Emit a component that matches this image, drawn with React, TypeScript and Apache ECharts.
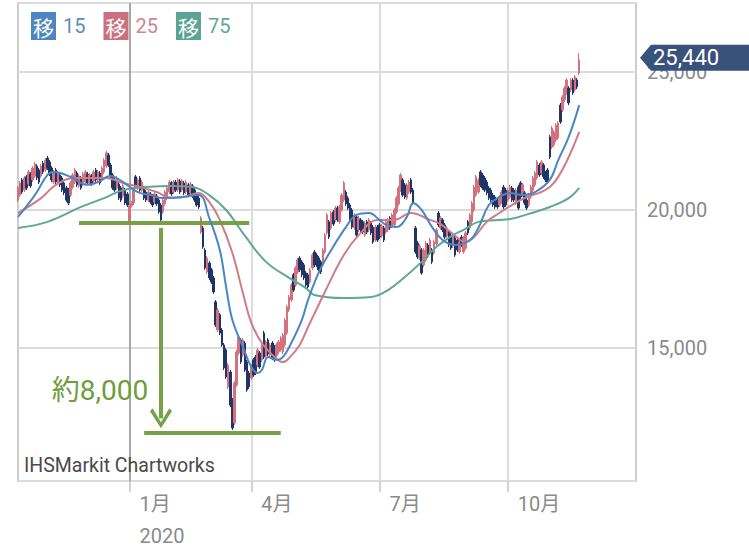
import React, { useEffect, useRef } from 'react';
import * as echarts from 'echarts';

// trading days per month (category axis)
const monthCounts: [string, number][] = [
  ['2019/10', 12], ['2019/11', 20], ['2019/12', 21],
  ['2020/1', 19], ['2020/2', 18], ['2020/3', 21],
  ['2020/4', 21], ['2020/5', 18], ['2020/6', 22],
  ['2020/7', 21], ['2020/8', 20], ['2020/9', 20],
  ['2020/10', 22], ['2020/11', 19], ['2020/12', 21],
];
const monthTickLabels: Record<string, string> = {
  '2020/1': '1月\n2020', '2020/4': '4月', '2020/7': '7月', '2020/10': '10月',
};
const yTicks = [15000, 20000, 25000];

// [open, close, low, high]
const candlesPre: number[][] = [
  [20360,20800,20290,20870],[20540,20980,20470,21050],[21090,20650,20580,21160],[20720,21160,20650,21230],
  [21200,20800,20730,21270],[20940,21380,20870,21450],[21300,20870,20800,21370],[21090,21520,21010,21590],
  [21230,21670,21160,21740],[21590,21160,21090,21660],[21450,21010,20940,21520],[21230,21590,21160,21660],
  [21700,21380,21300,21780],[21450,21810,21380,21880],[21880,21520,21450,21960],[21740,21300,21230,21810],
  [21520,21090,21010,21590],[21010,21380,20940,21450],[21450,21010,20940,21520],[20980,21340,20910,21410],
  [21270,20910,20830,21340],[21160,20720,20650,21230],[20980,20620,20540,21050],[20800,20360,20290,20870],
  [20720,20250,20180,20800],[20540,20980,20470,21050],[20830,21270,20760,21340],[21010,21450,20940,21520],
  [21340,20910,20830,21410],[20870,21230,20800,21300],[21160,20800,20730,21230],[20940,21300,20870,21380],
  [21010,21380,20940,21450],[21300,20980,20910,21380],[20980,21270,20910,21340],[21230,20940,20870,21300],
  [21050,21380,20980,21450],[21450,21090,21010,21520],[21090,21380,21010,21450],[21340,20980,20910,21410],
  [21090,21520,21010,21590],[21380,21810,21300,21880],[21590,22070,21520,22140],[21990,21630,21560,22070],
  [21630,21200,21120,21700],[21270,20800,20730,21340],[21090,20720,20650,21160],[20800,21160,20730,21230],
  [20940,20430,20360,21010],[20800,20360,20290,20870],[20510,20870,20430,20940],[20720,20250,20180,20800],
  [20580,20180,20110,20650],
];
const candlesQ1: number[][] = [
  [19570,20150,19490,20220],[20150,20250,20080,20330],[20250,20720,20180,20800],[21200,20830,20760,21270],
  [20800,21090,20730,21160],[21160,20720,20650,21230],[20720,21010,20650,21090],[20800,20430,20360,20870],
  [20650,20360,20290,20720],[20360,20650,20290,20720],[20580,20290,20220,20650],[20510,20180,20110,20580],
  [20290,20580,20220,20650],[20510,20220,20150,20580],[20360,19930,19860,20430],[20180,19640,19570,20250],
  [19930,20360,19860,20430],[20220,20650,20150,20720],[20430,20800,20360,20870],[20650,21010,20580,21090],
  [20980,20580,20510,21050],[20650,21010,20580,21090],[21010,20720,20650,21090],[20720,21090,20650,21160],
  [21050,20650,20580,21120],[20720,21050,20650,21120],[20980,20620,20540,21050],[20650,21010,20580,21090],
  [20910,20540,20470,20980],[20620,20940,20540,21010],[20870,20510,20430,20940],[20720,20360,20290,20800],
  [20540,20180,20110,20620],[20430,20110,20040,20510],[19200,19710,19130,19780],[19350,18660,18590,19420],
  [18550,17900,17830,18620],[17750,18260,17680,18330],[18080,17540,17460,18150],[17830,17390,17320,17900],
  [17540,17030,16960,17610],[16670,15830,15760,16740],[15650,16380,15580,16450],[16200,15540,15470,16270],
  [15650,15110,15040,15720],[15110,14280,14200,15180],[14930,13950,13880,15000],[13590,14380,13510,14460],
  [14130,12930,12860,14200],[13120,12100,12030,13190],[12280,13730,12210,13800],[13660,14850,13590,14930],
  [14820,15400,14750,15470],[15290,14490,14420,15360],[14750,15290,14670,15360],[15180,14200,14130,15250],
  [14490,13480,13410,14570],[14090,13590,13510,14170],
];
const candlesQ2: number[][] = [
  [13910,14350,13840,14420],[14570,14020,13950,14640],[14670,14090,14020,14750],[14380,14930,14310,15000],
  [14820,14310,14240,14890],[14570,15110,14490,15180],[15540,14670,14600,15620],[14710,15220,14640,15290],
  [15290,14780,14710,15360],[14750,15110,14670,15180],[15180,14640,14560,15250],[15040,14570,14490,15110],
  [14710,15110,14640,15180],[14860,15220,14780,15290],[14930,15360,14860,15430],[14860,15470,14780,15540],
  [15110,16010,15040,16090],[15540,16490,15470,16560],[16380,16850,16300,16920],[16740,17280,16670,17360],
  [17650,17100,17030,17720],[17280,17900,17210,17970],[17750,18190,17680,18260],[18260,17830,17750,18330],
  [18120,17650,17570,18190],[18010,17540,17460,18080],[17720,17280,17210,17790],[17650,17210,17140,17720],
  [17390,17830,17320,17900],[17900,18370,17830,18440],[18480,18010,17930,18550],[18370,18010,17930,18440],
  [18260,17830,17750,18330],[18120,17750,17680,18190],[18040,18550,17970,18620],[18480,19090,18410,19170],
  [19170,19820,19090,19890],[19570,19020,18950,19640],[19350,19890,19280,19960],[19930,19490,19420,20000],
  [19640,20070,19570,20150],[20070,19640,19570,20150],[19570,20110,19490,20180],[20000,20540,19930,20620],
  [20360,20980,20290,21050],[20650,20220,20150,20720],[20430,20070,20000,20510],[20180,19640,19570,20250],
  [20000,19380,19310,20070],[19350,19820,19280,19890],[19750,19090,19020,19820],[19280,19710,19200,19780],
  [19640,19280,19200,19710],[19570,19200,19130,19640],[19090,19530,19020,19600],[19570,19200,19130,19640],
  [19280,19640,19200,19710],[19530,19170,19090,19600],[19380,18840,18770,19460],[18910,19380,18840,19460],
  [19380,18910,18840,19460],
];
const candlesQ3: number[][] = [
  [19460,19020,18950,19530],[19060,19420,18990,19490],[19350,18910,18840,19420],[19200,19570,19130,19640],
  [19280,19640,19200,19710],[19710,19350,19280,19780],[19420,19820,19350,19890],[19460,20000,19380,20070],
  [19930,20430,19860,20510],[20220,20800,20150,20870],[20720,21270,20650,21340],[21090,20540,20470,21160],
  [20910,20470,20400,20980],[20430,20910,20360,20980],[20650,21010,20580,21090],[21090,20650,20580,21160],
  [20720,20250,20180,20800],[19350,18480,18410,19420],[18800,18300,18220,18880],[18260,18700,18190,18770],
  [18550,17720,17650,18620],[18010,18550,17930,18620],[18190,18800,18120,18880],[18730,18330,18260,18800],
  [18440,18910,18370,18990],[18550,18120,18040,18620],[18440,18840,18370,18910],[18770,19280,18700,19350],
  [19890,19460,19380,19960],[19350,19710,19280,19780],[19640,19280,19200,19710],[19460,19020,18950,19530],
  [19060,19350,18990,19420],[19200,18730,18660,19280],[19090,18620,18550,19170],[18700,19060,18620,19130],
  [18990,18370,18300,19060],[18910,18550,18480,18990],[18480,18840,18410,18910],[19020,18730,18660,19090],
  [18480,18990,18410,19060],[18620,19170,18550,19240],[19570,19170,19090,19640],[19350,19820,19280,19890],
  [19570,20250,19490,20330],[20000,20830,19930,20910],[20540,21200,20470,21270],[20650,21090,20580,21160],
  [21380,20910,20830,21450],[21270,20800,20730,21340],[21160,20720,20650,21230],[21010,20620,20540,21090],
  [20800,20430,20360,20870],[20720,20360,20290,20800],[20540,20180,20110,20620],[20470,20110,20040,20540],
  [20360,20110,20040,20430],[20180,20470,20110,20540],[20290,20650,20220,20720],[20830,20110,20040,20910],
  [20720,20180,20110,20800],
];
const candlesQ4: number[][] = [
  [20360,20720,20290,20800],[20470,20830,20400,20910],[20800,20360,20290,20870],[20720,20360,20290,20800],
  [20250,20720,20180,20800],[20830,20070,20000,20910],[20980,20470,20400,21050],[20540,20910,20470,20980],
  [20620,20250,20180,20690],[20360,20070,20000,20430],[20180,20540,20110,20620],[20470,20830,20400,20910],
  [20720,21160,20650,21230],[20910,21340,20830,21410],[21160,21740,21090,21810],[21630,21270,21200,21700],
  [21340,21740,21270,21810],[21630,21200,21120,21700],[21340,21090,21010,21410],[21450,21010,20940,21520],
  [22650,21920,21850,22720],[22280,22970,22210,23040],[22360,22830,22280,22900],[22540,23080,22460,23150],
  [22610,23150,22540,23220],[23800,23190,23120,23880],[23620,24090,23550,24170],[23990,24420,23910,24490],
  [24240,24710,24170,24780],[24420,23880,23800,24490],[24350,24710,24280,24780],[24710,24240,24170,24780],
  [24350,24820,24280,24890],[24710,24460,24380,24780],[24960,25440,24890,25690],
];

// moving averages: [trading-day index, value]
const ma15Points: [number, number][] = [
  [0,19750],[8,20540],[14,21270],[17,21380],[25,21200],[33,20910],[38,21010],[44,21230],[50,21010],
  [57,20650],[63,20540],[69,20430],[78,20470],[86,20540],[91,19710],[96,18550],[99,17210],[102,16010],
  [107,15040],[111,14310],[114,14090],[116,14200],[119,14670],[123,14570],[126,14670],[130,15180],
  [135,16010],[138,16740],[143,17720],[149,18550],[156,19380],[161,19820],[167,19890],[172,19640],
  [175,19460],[180,19380],[185,19750],[188,20250],[192,20000],[197,19380],[202,18910],[208,18730],
  [215,18910],[219,19350],[224,20180],[229,20470],[234,20620],[240,20540],[246,20650],[253,21090],
  [257,21810],[262,22650],[267,23800],
];
const ma25Points: [number, number][] = [
  [0,19890],[11,20430],[18,20910],[27,21160],[35,21160],[42,21160],[50,20980],[58,20830],[66,20650],
  [73,20430],[79,20470],[86,20620],[91,20290],[96,19640],[102,18440],[107,16990],[111,15910],[116,15180],
  [121,14750],[126,14490],[129,14640],[134,15110],[138,15760],[146,17030],[155,18370],[163,19170],
  [171,19640],[179,19640],[187,19890],[196,19640],[201,19490],[207,19130],[213,18840],[217,19020],
  [223,19570],[229,19890],[235,20180],[242,20470],[248,20620],[253,20830],[257,21200],[262,21920],
  [267,22830],
];
const ma75Points: [number, number][] = [
  [0,19350],[14,19570],[30,20110],[41,20430],[50,20720],[61,20830],[73,20870],[83,20830],[91,20540],
  [99,20000],[108,19060],[118,18120],[129,17540],[137,17170],[141,16920],[155,16810],[168,16850],
  [176,17100],[184,17570],[192,18120],[199,18660],[207,19090],[212,19280],[219,19570],[234,19670],
  [243,19860],[253,20110],[262,20430],[267,20800],
];

// hand-drawn annotation (index, value)
const upperLevel = { from: 29, to: 110, value: 19530 };
const lowerLevel = { from: 60, to: 125, value: 11920 };
const arrowLine = { at: 68, from: 19350, to: 12450 };
const noteText = { at: 39, value: 13450, text: '約8,000' };

const W = 749;
const H = 553;
const GRID = { left: 18, right: 113, top: 3, bottom: 72 };
const GREEN = '#6e9d3d';
const FONT = 'Roboto, "Noto Sans CJK JP", sans-serif';

const categories: string[] = [];
monthCounts.forEach(([m, n]) => {
  for (let k = 1; k <= n; k++) categories.push(`${m}/${k}`);
});
const isMonthStart = (v: string) => {
  const parts = v.split('/');
  return parts[2] === '1' && monthTickLabels[`${parts[0]}/${parts[1]}`] !== undefined;
};
const monthKey = (v: string) => v.split('/').slice(0, 2).join('/');

const candles = [...candlesPre, ...candlesQ1, ...candlesQ2, ...candlesQ3, ...candlesQ4];
const lastClose = candles[candles.length - 1][1];
const toLine = (pts: [number, number][]) => pts.map(([i, v]) => [categories[i], v]);

const chevron = 'path://M50 0 L100 85 L88 100 L50 30 L12 100 L0 85 Z';

const legendRich: Record<string, any> = {};
[['15', '#4d86c0', '#5b8cc2'], ['25', '#c9717e', '#cf8591'], ['75', '#5aa493', '#63a696']].forEach(([k, box, num]) => {
  legendRich['b' + k] = {
    backgroundColor: box, color: '#fff', fontSize: 21, lineHeight: 22,
    padding: [4, 2, 3, 2], fontFamily: '"Noto Sans CJK JP", sans-serif',
  };
  legendRich['n' + k] = { color: num, fontSize: 20, padding: [0, 0, 0, 7], fontFamily: FONT };
});

export default function App() {
  const ref = useRef<HTMLDivElement>(null);
  useEffect(() => {
    const chart = echarts.init(ref.current!, null, { renderer: 'svg' });
    const monthFilter = (_i: number, v: string) => isMonthStart(v);
    chart.setOption({
      animation: false,
      backgroundColor: '#fff',
      grid: {
        ...GRID, show: true, borderColor: '#bdbdbd', borderWidth: 1.5, backgroundColor: 'transparent',
      },
      legend: {
        left: 21, top: 7, itemGap: 13, itemWidth: 0, itemHeight: 0, icon: 'none',
        selectedMode: false,
        data: ['15', '25', '75'],
        formatter: (name: string) => `{b${name}|移}{n${name}|${name}}`,
        textStyle: { rich: legendRich },
      },
      xAxis: {
        type: 'category',
        data: categories,
        boundaryGap: false,
        axisLine: { show: false },
        axisTick: { show: true, interval: monthFilter, length: 11, lineStyle: { color: '#c4c4c4', width: 1.5 } },
        splitLine: {
          show: true, interval: monthFilter,
          lineStyle: { color: ['#a8a8a8', '#dcdcdc', '#dcdcdc', '#dcdcdc', '#dcdcdc'], width: 2 },
        },
        axisLabel: {
          show: true, interval: monthFilter,
          formatter: (v: string) => monthTickLabels[monthKey(v)] ?? '',
          align: 'left', padding: [0, 0, 0, 10], margin: 7, lineHeight: 32,
          color: '#8a8a8a', fontSize: 20, fontFamily: FONT,
        },
      },
      yAxis: {
        type: 'value', position: 'right', scale: true,
        min: 10180, max: 27500, splitNumber: 3, minInterval: 5000, maxInterval: 5000,
        axisLine: { show: false }, axisTick: { show: false },
        splitLine: { show: true, lineStyle: { color: '#dcdcdc', width: 2 } },
        axisLabel: {
          showMinLabel: false, showMaxLabel: false, margin: 11,
          formatter: (v: number) => (yTicks.includes(v) ? v.toLocaleString('en-US') : ''),
          color: '#8a8a8a', fontSize: 20, fontFamily: FONT,
        },
      },
      series: [
        {
          type: 'candlestick', name: 'price', data: candles, barWidth: 2,
          itemStyle: { color: '#d4717c', color0: '#1f3565', borderColor: '#d4717c', borderColor0: '#1f3565', borderWidth: 1 },
          z: 2,
          markLine: {
            silent: true, animation: false, symbol: ['none', 'none'],
            label: { show: false },
            lineStyle: { color: GREEN, width: 4, type: 'solid', opacity: 0.95 },
            emphasis: { disabled: true },
            data: [
              [{ coord: [categories[upperLevel.from], upperLevel.value] }, { coord: [categories[upperLevel.to], upperLevel.value] }],
              [{ coord: [categories[lowerLevel.from], lowerLevel.value] }, { coord: [categories[lowerLevel.to], lowerLevel.value] }],
              [
                { coord: [categories[arrowLine.at], arrowLine.from], symbol: 'none' },
                { coord: [categories[arrowLine.at], arrowLine.to], symbol: chevron, symbolSize: [22, 20] },
              ],
            ],
          },
          markPoint: {
            silent: true, animation: false,
            data: [{
              coord: [categories[noteText.at], noteText.value], symbol: 'circle', symbolSize: 0,
              label: { show: true, position: 'inside', formatter: noteText.text, color: GREEN, fontSize: 28, fontFamily: FONT },
            }],
          },
        },
        { type: 'line', name: '75', data: toLine(ma75Points), smooth: 0.4, symbol: 'none', lineStyle: { color: '#5ea896', width: 2 }, itemStyle: { color: '#5ea896' }, z: 3 },
        { type: 'line', name: '25', data: toLine(ma25Points), smooth: 0.4, symbol: 'none', lineStyle: { color: '#d07c88', width: 2 }, itemStyle: { color: '#d07c88' }, z: 4 },
        { type: 'line', name: '15', data: toLine(ma15Points), smooth: 0.4, symbol: 'none', lineStyle: { color: '#4a87c2', width: 2 }, itemStyle: { color: '#4a87c2' }, z: 5 },
      ],
    });

    const yTag = chart.convertToPixel({ yAxisIndex: 0 }, lastClose) as number;
    const gx = W - GRID.right;
    chart.setOption({
      graphic: [
        {
          type: 'text', left: 24, top: 456, z: 10,
          style: { text: 'IHSMarkit Chartworks', fill: '#4a4a4a', fontSize: 19.5, fontFamily: FONT },
        },
        {
          type: 'polygon', z: 20,
          shape: { points: [[gx + 4, yTag - 2], [gx + 15, yTag - 15], [W, yTag - 15], [W, yTag + 11], [gx + 15, yTag + 11]] },
          style: { fill: '#38527c' },
        },
        {
          type: 'text', z: 21, x: gx + 17, y: yTag - 2,
          style: { text: lastClose.toLocaleString('en-US'), fill: '#fff', fontSize: 22, fontFamily: FONT, verticalAlign: 'middle' },
        },
      ],
    });
    return () => chart.dispose();
  }, []);
  return <div ref={ref} style={{ position: 'absolute', left: 0, top: 0, width: W, height: H, background: '#fff' }} />;
}
